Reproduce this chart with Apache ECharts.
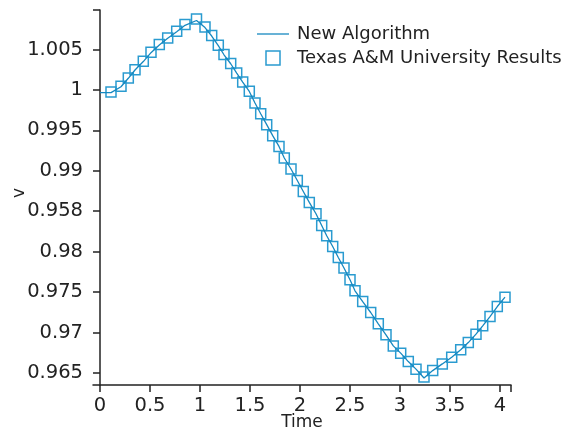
<!DOCTYPE html>
<html>
<head>
<meta charset="utf-8">
<script src="https://cdn.jsdelivr.net/npm/echarts@6/dist/echarts.min.js"></script>
<style>
  html, body { margin: 0; padding: 0; background: #ffffff; }
  #chart { width: 566px; height: 433px; }
</style>
</head>
<body>
<div id="chart"></div>
<script>
// Series names shown in the legend
const seriesNames = ['New Algorithm', 'Texas A&M University Results'];

// Reference results (square markers): time and voltage
const refTime = [0.11, 0.21, 0.283, 0.35, 0.433, 0.51, 0.593, 0.677, 0.767, 0.85,
  0.965, 1.05, 1.117, 1.183, 1.24, 1.307, 1.367, 1.427, 1.493, 1.55,
  1.607, 1.667, 1.727, 1.79, 1.843, 1.91, 1.973, 2.033, 2.093, 2.16,
  2.217, 2.267, 2.327, 2.383, 2.44, 2.5, 2.55, 2.627, 2.707, 2.783,
  2.86, 2.933, 3.007, 3.083, 3.16, 3.24, 3.327, 3.423, 3.517, 3.607,
  3.683, 3.76, 3.827, 3.9, 3.973, 4.05];
const refV = [0.99976, 1.00046, 1.00150, 1.00252, 1.00355, 1.00467, 1.00562, 1.00645, 1.00727, 1.00810,
  1.00878, 1.00781, 1.00673, 1.00553, 1.00438, 1.00327, 1.00211, 1.00100, 0.99984, 0.99840,
  0.99707, 0.99571, 0.99435, 0.99302, 0.99159, 0.99023, 0.98881, 0.98745, 0.98609, 0.98469,
  0.98324, 0.98197, 0.98064, 0.97927, 0.97797, 0.97652, 0.97516, 0.97383, 0.97247, 0.97107,
  0.96971, 0.96834, 0.96744, 0.96640, 0.96546, 0.96450, 0.96528, 0.96611, 0.96694, 0.96785,
  0.96875, 0.96979, 0.97082, 0.97197, 0.97321, 0.97437];

// New algorithm trajectory (solid line): time and voltage
const algTime = [0, 0.11, 0.21, 0.283, 0.35, 0.433, 0.51, 0.593, 0.677, 0.767,
  0.85, 0.965, 1.05, 1.117, 1.183, 1.24, 1.307, 1.367, 1.427, 1.493,
  1.55, 1.607, 1.667, 1.727, 1.79, 1.843, 1.91, 1.973, 2.033, 2.093,
  2.16, 2.217, 2.267, 2.327, 2.383, 2.44, 2.5, 2.55, 2.627, 2.707,
  2.783, 2.86, 2.933, 3.007, 3.083, 3.16, 3.24, 3.327, 3.423, 3.517,
  3.607, 3.683, 3.76, 3.827, 3.9, 3.973, 4.05];
const algV = [0.99968, 0.99968, 1.00040, 1.00145, 1.00248, 1.00352, 1.00462, 1.00556, 1.00640, 1.00722,
  1.00800, 1.00860, 1.00772, 1.00668, 1.00550, 1.00436, 1.00325, 1.00209, 1.00098, 0.99982,
  0.99840, 0.99707, 0.99571, 0.99435, 0.99302, 0.99159, 0.99023, 0.98881, 0.98745, 0.98609,
  0.98469, 0.98324, 0.98197, 0.98064, 0.97927, 0.97797, 0.97652, 0.97516, 0.97383, 0.97247,
  0.97107, 0.96971, 0.96834, 0.96744, 0.96640, 0.96546, 0.96436, 0.96528, 0.96611, 0.96694,
  0.96785, 0.96875, 0.96979, 0.97082, 0.97197, 0.97321, 0.97437];

// Axis ticks and labels
const xTickValues = [0, 0.5, 1, 1.5, 2, 2.5, 3, 3.5, 4];
const xTickLabels = ['0', '0.5', '1', '1.5', '2', '2.5', '3', '3.5', '4'];
const yTickValues = [0.965, 0.97, 0.975, 0.98, 0.985, 0.99, 0.995, 1, 1.005];
const yTickLabels = ['0.965', '0.97', '0.975', '0.98', '0.958', '0.99', '0.995', '1', '1.005'];
const xRange = [-0.07, 4.11];
const yRange = [0.9635, 1.0099];
const xTitle = 'Time';
const yTitle = 'v';

const FONT = 'DejaVu Sans';
const INK = '#222222';
const LINE_COLOR = '#1688c0';
const MARK_COLOR = '#2a9bd0';

function labelFor(values, labels) {
  return function (v) {
    for (let i = 0; i < values.length; i++) {
      if (Math.abs(values[i] - v) < 1e-9) return labels[i];
    }
    return '';
  };
}

const chart = echarts.init(document.getElementById('chart'), null, { renderer: 'canvas' });

chart.setOption({
  animation: false,
  backgroundColor: '#ffffff',
  grid: { left: 93, right: 55, top: 10, bottom: 48, containLabel: false, outerBoundsMode: 'none' },
  legend: {
    orient: 'vertical',
    left: 257,
    top: 25,
    padding: 0,
    itemWidth: 32,
    itemHeight: 14,
    itemGap: 6,
    symbolKeepAspect: true,
    textStyle: { fontFamily: FONT, fontSize: 18, color: INK, padding: [0, 0, 0, 3] },
    data: [
      { name: seriesNames[0], icon: 'path://M0,0h32v1.3h-32z',
        itemStyle: { color: LINE_COLOR, borderWidth: 0 } },
      { name: seriesNames[1], icon: 'path://M0,0h13v13h-13z',
        itemStyle: { color: 'transparent', borderColor: MARK_COLOR, borderWidth: 1.5 } }
    ]
  },
  // rotated y-axis title placed beside the tick labels
  graphic: [{
    type: 'text',
    x: 20,
    y: 193,
    rotation: Math.PI / 2,
    style: {
      text: yTitle,
      fontFamily: FONT,
      fontSize: 17,
      fill: INK,
      align: 'center',
      verticalAlign: 'middle'
    }
  }],
  xAxis: {
    type: 'value',
    min: xRange[0],
    max: xRange[1],
    name: xTitle,
    nameLocation: 'middle',
    nameGap: 29,
    nameMoveOverlap: false,
    nameTextStyle: { fontFamily: FONT, fontSize: 17, color: INK },
    splitLine: { show: false },
    axisLine: { lineStyle: { color: INK, width: 1.5 } },
    axisTick: { show: true, inside: false, length: 7, customValues: xTickValues.concat([xRange[1]]),
      lineStyle: { color: INK, width: 1.5 } },
    axisLabel: { customValues: xTickValues, formatter: labelFor(xTickValues, xTickLabels),
      fontFamily: FONT, fontSize: 19.5, color: INK, margin: 11 }
  },
  yAxis: {
    type: 'value',
    min: yRange[0],
    max: yRange[1],
    splitLine: { show: false },
    axisLine: { onZero: true, lineStyle: { color: INK, width: 1.5 } },
    axisTick: { show: true, inside: false, length: 7, customValues: yTickValues.concat([yRange[1]]),
      lineStyle: { color: INK, width: 1.5 } },
    axisLabel: { customValues: yTickValues, formatter: labelFor(yTickValues, yTickLabels),
      fontFamily: FONT, fontSize: 19.5, color: INK, margin: 10 }
  },
  series: [
    {
      name: seriesNames[1],
      type: 'scatter',
      symbol: 'rect',
      symbolSize: 10,
      z: 2,
      itemStyle: { color: 'transparent', borderColor: MARK_COLOR, borderWidth: 1.5, opacity: 1 },
      data: refTime.map((t, i) => [t, refV[i]])
    },
    {
      name: seriesNames[0],
      type: 'line',
      symbol: 'none',
      showSymbol: false,
      z: 3,
      lineStyle: { color: LINE_COLOR, width: 1.3 },
      itemStyle: { color: LINE_COLOR },
      data: algTime.map((t, i) => [t, algV[i]])
    }
  ]
});
</script>
</body>
</html>
